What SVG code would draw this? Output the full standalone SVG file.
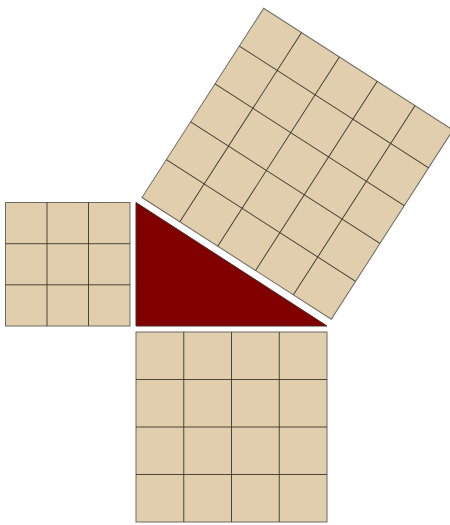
<svg xmlns="http://www.w3.org/2000/svg" width="450" height="525" viewBox="0 0 450 525">
<style>
.sq{fill:#e0ceac;stroke:#6e6a62;stroke-width:1}
.grid{stroke:#3a3630;stroke-width:0.9;fill:none}
.tri{fill:#800000;stroke:#4a2a2a;stroke-width:1}
</style>
<rect width="450" height="525" fill="#ffffff"/>
<g id="square-a">
<rect class="sq" x="5.5" y="202.5" width="124.5" height="123.5"/>
<path class="grid" d="M47 202.5V326M88.5 202.5V326M5.5 243.7H130M5.5 284.8H130"/>
</g>
<g id="triangle">
<polygon class="tri" points="136,202.5 136,326 327,326"/>
</g>
<g id="square-b">
<rect class="sq" x="136" y="332" width="191" height="190"/>
<path class="grid" d="M183.75 332V522M231.5 332V522M279.25 332V522M136 379.5H327M136 427H327M136 474.5H327"/>
</g>
<g id="square-c" transform="translate(142,197.5) rotate(32.74)">
<rect class="sq" x="0" y="-225" width="225" height="225"/>
<path class="grid" d="M45 -225V0M90 -225V0M135 -225V0M180 -225V0M0 -45H225M0 -90H225M0 -135H225M0 -180H225"/>
</g>
<g id="connectors"></g>
</svg>
